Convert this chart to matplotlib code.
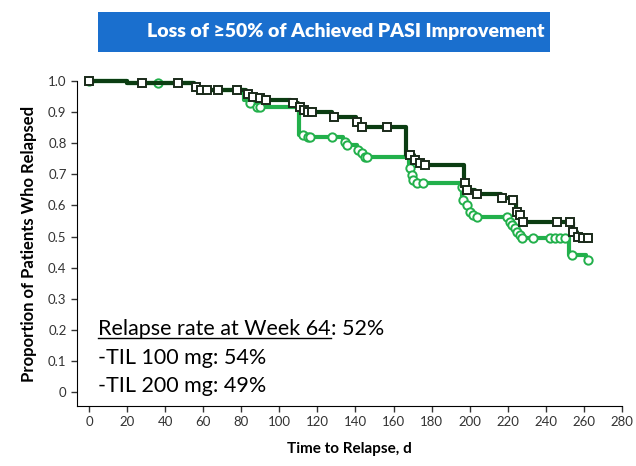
import numpy as np
import matplotlib
matplotlib.use("Agg")
import matplotlib.pyplot as plt
from matplotlib.patches import Rectangle

plt.rcParams['font.family'] = ['Lato', 'DejaVu Sans']

# step curves: (time of step, new proportion)
dark_t = [0, 20, 55, 58, 82.5, 85.5, 89, 92, 106, 110, 112, 114, 127.5, 140.5, 142.5,
          166.5, 170.5, 173.5, 176, 197, 198.2, 203, 216.5, 222.3, 224.3, 226, 227.5,
          254, 256.5, 259]
dark_s = [1.0, 0.993, 0.98, 0.97, 0.958, 0.949, 0.945, 0.939, 0.929, 0.916, 0.908, 0.90,
          0.884, 0.868, 0.852, 0.762, 0.746, 0.736, 0.73, 0.672, 0.65, 0.636, 0.624,
          0.617, 0.579, 0.569, 0.547, 0.514, 0.498, 0.495]
dark_cens = [0, 28, 47, 56, 59, 62, 68, 78, 83.5, 86, 90, 93, 107, 111, 113, 115, 117,
             128.5, 141, 143.5, 156.5, 168.5, 171, 174, 176.5, 197.5, 198.7, 204, 217,
             222.7, 224.8, 226.4, 228, 246, 252.6, 254.5, 257, 259.5, 262]

green_t = [0, 20, 55, 58, 81.5, 84, 87.5, 110.5, 113, 133.5, 135.2, 141, 143, 144.7,
           168, 169.2, 170, 172, 195.5, 196.2, 198, 199.8, 201.4, 203.4, 220.8, 221.9,
           223.4, 224.5, 226, 227, 252.3, 261]
green_s = [1.0, 0.993, 0.98, 0.97, 0.939, 0.929, 0.916, 0.826, 0.82, 0.804, 0.794, 0.778,
           0.768, 0.756, 0.72, 0.698, 0.682, 0.672, 0.659, 0.617, 0.601, 0.579, 0.569,
           0.563, 0.547, 0.537, 0.527, 0.514, 0.505, 0.495, 0.441, 0.424]
green_cens = [0, 36, 84.6, 88, 90, 112.4, 115, 116, 127.6, 134.5, 135.5, 141.3, 143.4,
              145, 146, 168.6, 169.6, 170.2, 172.3, 175.4, 195.9, 196.4, 198.5, 200.1,
              201.7, 203.8, 219.5, 221.1, 222.2, 223.7, 224.8, 226.4, 227.4, 233.2, 242,
              244.7, 247.4, 250, 253.7, 262]

x_ticks = list(range(0, 281, 20))
y_ticks = [0, 0.1, 0.2, 0.3, 0.4, 0.5, 0.6, 0.7, 0.8, 0.9, 1.0]
y_labels = ['0', '0.1', '0.2', '0.3', '0.4', '0.5', '0.6', '0.7', '0.8', '0.9', '1.0']

dark = '#0b3d12'
light = '#22b04b'


def step_val(t, s, x):
    idx = np.searchsorted(t, x, side='right') - 1
    return np.array(s)[idx]


fig = plt.figure(figsize=(6.36, 4.66), dpi=100)
ax = fig.add_axes([77 / 636, 1 - 406 / 466, 545 / 636, 325 / 466])

# green first, dark on top
gx = list(green_t) + [green_cens[-1]]
gy = list(green_s) + [green_s[-1]]
ax.step(gx, gy, where='post', color=light, lw=3, clip_on=False, zorder=2)
ax.plot(green_cens, step_val(green_t, green_s, green_cens), 'o', ms=6, mfc='white',
        mec=light, mew=1.4, clip_on=False, zorder=3)

dx = list(dark_t) + [dark_cens[-1]]
dy = list(dark_s) + [dark_s[-1]]
ax.step(dx, dy, where='post', color=dark, lw=3, clip_on=False, zorder=4)
ax.plot(dark_cens, step_val(dark_t, dark_s, dark_cens), 's', ms=6, mfc='white',
        mec='#1a2a1a', mew=1.4, clip_on=False, zorder=5)

ax.set_xlim(-6.3, 280)
ax.set_ylim(-0.045, 1.0)
ax.spines['top'].set_visible(False)
ax.spines['right'].set_visible(False)
ax.spines['left'].set_bounds(-0.045, 1.0)
ax.set_xticks(x_ticks)
ax.set_yticks(y_ticks)
ax.set_yticklabels(y_labels)
ax.tick_params(labelsize=9.5, length=4, width=1, colors='#333333')
ax.set_xlabel('Time to Relapse, d', fontsize=11, fontweight='bold', labelpad=10)
ax.set_ylabel('Proportion of Patients Who Relapsed', fontsize=12, fontweight='bold',
              labelpad=8)

# annotation
t1 = ax.text(4.7, 0.203, 'Relapse rate at Week 64', fontsize=15.5, va='center', ha='left')
fig.canvas.draw()
bb = t1.get_window_extent().transformed(ax.transData.inverted())
ax.text(bb.x1, 0.203, ': 52%', fontsize=15.5, va='center', ha='left')
ax.plot([bb.x0, bb.x1], [bb.y0 + 0.004, bb.y0 + 0.004], color='black', lw=1)
ax.text(4.7, 0.109, '-TIL 100 mg: 54%', fontsize=15.5, va='center', ha='left')
ax.text(4.7, 0.019, '-TIL 200 mg: 49%', fontsize=15.5, va='center', ha='left')

# title banner
fig.patches.append(Rectangle((98 / 636, 1 - 52 / 466), 452 / 636, 40 / 466,
                             transform=fig.transFigure, facecolor='#1a6fce',
                             edgecolor='none'))
fig.text(346 / 636, 1 - 32 / 466, 'Loss of \u226550% of Achieved PASI Improvement',
         color='white', fontsize=14, fontweight='heavy', ha='center', va='center')

fig.savefig('out.png', dpi=100)
